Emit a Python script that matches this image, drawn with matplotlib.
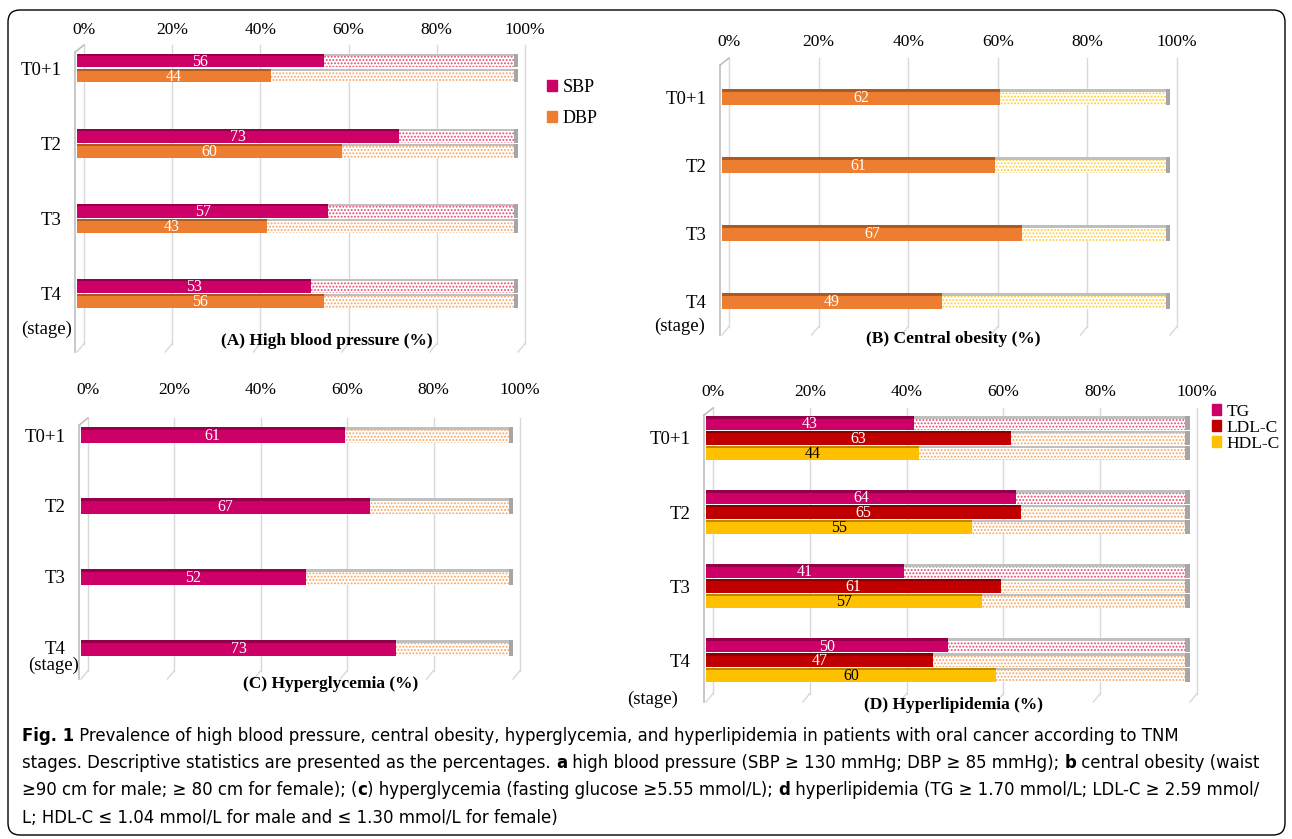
import matplotlib
matplotlib.use('Agg')
import matplotlib.pyplot as plt
from matplotlib.patches import FancyBboxPatch, Patch
from matplotlib.transforms import IdentityTransform

plt.rcParams['font.family'] = ['Liberation Serif', 'DejaVu Serif']
plt.rcParams['hatch.linewidth'] = 0.9

W, H = 1292, 839

stages = ['T0+1', 'T2', 'T3', 'T4']

# (A) high blood pressure
sbp = [56, 73, 57, 53]
dbp = [44, 60, 43, 56]
# (B) central obesity
obesity = [62, 61, 67, 49]
# (C) hyperglycemia
glyc = [61, 67, 52, 73]
# (D) hyperlipidemia
tg = [43, 64, 41, 50]
ldl = [63, 65, 61, 47]
hdl = [44, 55, 57, 60]

ticks = [0, 20, 40, 60, 80, 100]
tick_labels = ['0%', '20%', '40%', '60%', '80%', '100%']

C_PINK = '#CC0066'
C_ORANGE = '#ED7D31'
C_RED = '#C00000'
C_GOLD = '#FFC000'


def darker(c, f=0.72):
    r, g, b = matplotlib.colors.to_rgb(c)
    return (r * f, g * f, b * f)


fig = plt.figure(figsize=(W / 100, H / 100), dpi=100)


def px_axes(x0, x1, y0, y1):
    ax = fig.add_axes([x0 / W, 1 - y1 / H, (x1 - x0) / W, (y1 - y0) / H])
    ax.px_w = x1 - x0
    ax.px_h = y1 - y0
    return ax


def ftext(x, y, s, **kw):
    fig.text(x / W, 1 - y / H, s, **kw)


def draw_bars(ax, ypos, vals, h, color, dot, txtcolor='white'):
    rest = [100 - v for v in vals]
    s = h * 0.17
    # dotted remainder up to 100%
    ax.barh(ypos, rest, left=vals, height=h, color='white', edgecolor=dot,
            hatch='.....', linewidth=0, zorder=2)
    ax.barh([y - h / 2 + s / 2 for y in ypos], rest, left=vals, height=s,
            color='#BFBFBF', linewidth=0, zorder=3)
    ax.barh(ypos, [1.0] * len(vals), left=[99.0] * len(vals), height=h,
            color='#A6A6A6', linewidth=0, zorder=3)
    # filled part
    ax.barh(ypos, vals, height=h, color=color, linewidth=0, zorder=4)
    ax.barh([y - h / 2 + s / 2 for y in ypos], vals, height=s,
            color=darker(color), linewidth=0, zorder=5)
    for y, v in zip(ypos, vals):
        ax.text(v / 2, y + h * 0.08, str(v), ha='center', va='center',
                color=txtcolor, fontsize=11.5, zorder=6)


def style(ax, ylim, lab_gap, dx=7, dy=7):
    ax.set_xlim(0, 100)
    ax.set_ylim(*ylim)
    ax.set_xticks([])
    ax.set_yticks(range(len(stages)))
    ax.set_yticklabels(stages)
    ax.tick_params(axis='y', length=0, pad=11, labelsize=13.5)
    for sp in ax.spines.values():
        sp.set_visible(False)
    ax.set_facecolor('none')
    # pseudo 3D back wall / floor, offsets given in pixels
    ddx = dx * 100.0 / ax.px_w
    ddy = dy / ax.px_h
    tr = ax.get_xaxis_transform()
    g = dict(color='#D9D9D9', linewidth=1, transform=tr, zorder=0, clip_on=False)
    for t, lab in zip(ticks, tick_labels):
        ax.plot([t + ddx, t + ddx], [ddy * 0.2, 1], **g)
        ax.plot([t + ddx, t], [ddy * 0.2, -ddy], **g)
        ax.text(t + ddx, 1 + lab_gap / ax.px_h, lab, transform=tr, ha='center',
                va='center', fontsize=12.5)
    w = dict(color='#BFBFBF', linewidth=1.2, transform=tr, zorder=0, clip_on=False)
    ax.plot([-0.4, -0.4], [1 - ddy, -ddy], **w)
    ax.plot([-0.4, ddx], [1 - ddy, 1], **w)


# ---- (A) ----
axA = px_axes(77, 518, 45, 345)
hA = 0.185
draw_bars(axA, [y - 0.1 for y in range(4)], sbp, hA, C_PINK, '#E8476E')
draw_bars(axA, [y + 0.1 for y in range(4)], dbp, hA, C_ORANGE, '#F4A460')
style(axA, (3.69, -0.307), 15)
ftext(327, 341, '(A) High blood pressure (%)', ha='center', va='center',
      fontsize=12.5, fontweight='bold')
ftext(47, 329, '(stage)', ha='center', va='center', fontsize=13.5)
fig.legend(handles=[Patch(color=C_PINK, label='SBP'), Patch(color=C_ORANGE, label='DBP')],
           loc='upper left', bbox_to_anchor=(538 / W, 1 - 70 / H), frameon=False,
           fontsize=13, handlelength=0.55, handleheight=0.55, handletextpad=0.3,
           labelspacing=0.75, borderpad=0)

# ---- (B) ----
axB = px_axes(722, 1170, 58, 328)
draw_bars(axB, list(range(4)), obesity, 0.235, C_ORANGE, '#FFCC33')
style(axB, (3.397, -0.574), 16)
ftext(953, 339, '(B) Central obesity (%)', ha='center', va='center',
      fontsize=12.5, fontweight='bold')
ftext(680, 326, '(stage)', ha='center', va='center', fontsize=13.5)

# ---- (C) ----
axC = px_axes(81, 513, 418, 672)
draw_bars(axC, list(range(4)), glyc, 0.225, C_PINK, '#F4A460')
style(axC, (3.34, -0.24), 28)
ftext(331, 684, '(C) Hyperglycemia (%)', ha='center', va='center',
      fontsize=12.5, fontweight='bold')
ftext(54, 665, '(stage)', ha='center', va='center', fontsize=13.5)

# ---- (D) ----
axD = px_axes(706, 1190, 408, 695)
hD = 0.19
draw_bars(axD, [y - 0.2 for y in range(4)], tg, hD, C_PINK, '#E8476E')
draw_bars(axD, list(range(4)), ldl, hD, C_RED, '#F4A460')
draw_bars(axD, [y + 0.2 for y in range(4)], hdl, hD, C_GOLD, '#F4A460', txtcolor='black')
style(axD, (3.47, -0.405), 16)
ftext(953, 705, '(D) Hyperlipidemia (%)', ha='center', va='center',
      fontsize=12.5, fontweight='bold')
ftext(653, 699, '(stage)', ha='center', va='center', fontsize=13.5)
fig.legend(handles=[Patch(color=C_PINK, label='TG'), Patch(color=C_RED, label='LDL-C'),
                    Patch(color=C_GOLD, label='HDL-C')],
           loc='upper left', bbox_to_anchor=(1203 / W, 1 - 395 / H), frameon=False,
           fontsize=12.5, handlelength=0.55, handleheight=0.55, handletextpad=0.3,
           labelspacing=0.0, borderpad=0)

# ---- caption ----
cap_kw = dict(family='DejaVu Sans', fontstretch='condensed')
caption = [
    [('Fig. 1', True), (' Prevalence of high blood pressure, central obesity, hyperglycemia, and hyperlipidemia in patients with oral cancer according to TNM', False)],
    [('stages. Descriptive statistics are presented as the percentages. ', False), ('a', True),
     (' high blood pressure (SBP ≥ 130 mmHg; DBP ≥ 85 mmHg); ', False), ('b', True),
     (' central obesity (waist', False)],
    [('≥90 cm for male; ≥ 80 cm for female); (', False), ('c', True),
     (') hyperglycemia (fasting glucose ≥5.55 mmol/L); ', False), ('d', True),
     (' hyperlipidemia (TG ≥ 1.70 mmol/L; LDL-C ≥ 2.59 mmol/', False)],
    [('L; HDL-C ≤ 1.04 mmol/L for male and ≤ 1.30 mmol/L for female)', False)],
]
cap_y = [736, 763, 790, 818]
renderer = fig.canvas.get_renderer()


def line_width(line, size):
    total = 0
    for s, bold in line:
        t = fig.text(0, 0, s, fontsize=size, fontweight='bold' if bold else 'normal', **cap_kw)
        total += t.get_window_extent(renderer=renderer).width
        t.remove()
    return total


size = 14.0
w2 = line_width(caption[1], size)
size = min(size, size * (1268 - 22) / w2)

for line, y in zip(caption, cap_y):
    x = 22
    for s, bold in line:
        t = fig.text(x / W, 1 - y / H, s, ha='left', va='center', fontsize=size,
                     fontweight='bold' if bold else 'normal', **cap_kw)
        x += t.get_window_extent(renderer=renderer).width

fig.patches.append(FancyBboxPatch((8, 4), 1277, 825, boxstyle='round,pad=0,rounding_size=12',
                                  transform=IdentityTransform(), fill=False,
                                  edgecolor='black', linewidth=1, figure=fig))

fig.savefig('out.png', dpi=100)
